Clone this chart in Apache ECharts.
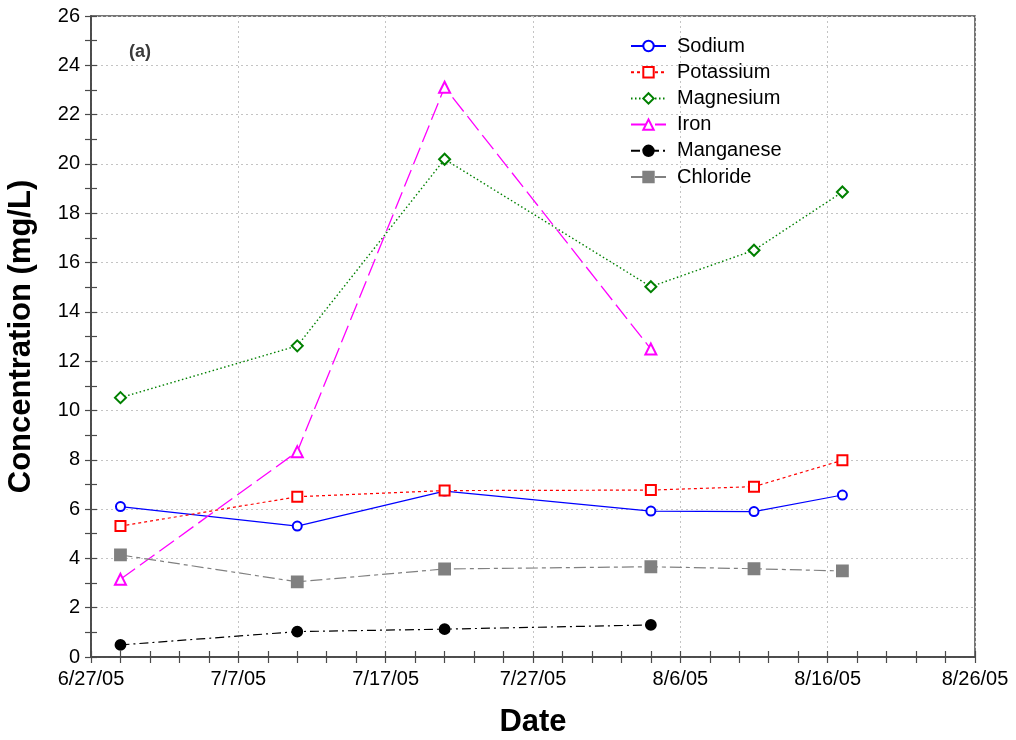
<!DOCTYPE html>
<html>
<head>
<meta charset="utf-8">
<title>Concentration vs Date</title>
<script src="https://cdn.jsdelivr.net/npm/echarts@6/dist/echarts.min.js"></script>
<style>
  html, body { margin: 0; padding: 0; background: #ffffff; }
  #chart { width: 1016px; height: 740px; }
</style>
</head>
<body>
<div id="chart"></div>
<script>
// Sampling dates and measured concentrations (mg/L)
const sampleDates = ['2005-06-29', '2005-07-11', '2005-07-21', '2005-08-04', '2005-08-11', '2005-08-17'];
const sodium    = [6.10, 5.31, 6.73, 5.92, 5.90, 6.57];
const potassium = [5.31, 6.50, 6.75, 6.77, 6.91, 7.98];
const magnesium = [10.52, 12.62, 20.19, 15.02, 16.50, 18.86];
const iron      = [3.15, 8.33, 23.11, 12.49, null, null];
const manganese = [0.49, 1.03, 1.13, 1.30, null, null];
const chloride  = [4.14, 3.05, 3.57, 3.66, 3.58, 3.49];

// Axis range: dates counted in days from the axis start
const axisStart = '2005-06-27';
const axisEnd   = '2005-08-26';
const yTicks = [0, 2, 4, 6, 8, 10, 12, 14, 16, 18, 20, 22, 24, 26];

const DAY = 86400000;
function utc(s) {
  const p = s.split('-').map(Number);
  return Date.UTC(p[0], p[1] - 1, p[2]);
}
const t0 = utc(axisStart);
const dayOf = s => (utc(s) - t0) / DAY;
const xMax = dayOf(axisEnd);

function dateLabel(v) {
  const d = new Date(t0 + v * DAY);
  const yy = String(d.getUTCFullYear() % 100).padStart(2, '0');
  return (d.getUTCMonth() + 1) + '/' + d.getUTCDate() + '/' + yy;
}

function pairs(values) {
  return sampleDates.map((s, i) => [dayOf(s), values[i]]).filter(p => p[1] != null);
}

const FONT = '"Liberation Sans", Arial, sans-serif';
const FRAME = '#4a4a4a';

const seriesDefs = [
  { name: 'Sodium',    data: sodium,    color: '#0000ff', symbol: 'emptyCircle',   size: 9,  dash: 'solid',           width: 1.2 },
  { name: 'Potassium', data: potassium, color: '#ff0000', symbol: 'emptyRect',     size: 10, dash: [3, 3],            width: 1.2 },
  { name: 'Magnesium', data: magnesium, color: '#008000', symbol: 'emptyDiamond',  size: 11, dash: [1.5, 2.5],        width: 1.4 },
  { name: 'Iron',      data: iron,      color: '#ff00ff', symbol: 'emptyTriangle', size: 11, dash: [18, 6],           width: 1.3 },
  { name: 'Manganese', data: manganese, color: '#000000', symbol: 'circle',        size: 10, dash: [9, 4, 2, 4],      width: 1.2 },
  { name: 'Chloride',  data: chloride,  color: '#808080', symbol: 'rect',          size: 11, dash: [12, 4, 4, 4],     width: 1.2 }
];

const chart = echarts.init(document.getElementById('chart'), null, { renderer: 'canvas' });

const gridLine = { show: true, lineStyle: { color: '#c4c4c4', width: 1, type: [2, 3] } };

function ticks() {
  return { show: true, inside: true, length: 6, lineStyle: { color: FRAME, width: 1.2 } };
}
function minor(n) {
  return { show: true, splitNumber: n, length: 6, lineStyle: { color: FRAME, width: 1.2 } };
}

chart.setOption({
  animation: false,
  backgroundColor: '#ffffff',
  textStyle: { fontFamily: FONT },
  title: {
    text: '(a)',
    left: 124,
    top: 38,
    textStyle: { fontFamily: FONT, fontSize: 18, fontWeight: 'bold', color: '#3a3a3a' }
  },
  legend: {
    orient: 'vertical',
    left: 630,
    top: 36,
    padding: 0,
    itemWidth: 35,
    itemHeight: 13,
    itemGap: 6.2,
    textStyle: { fontFamily: FONT, fontSize: 20, color: '#000000', lineHeight: 20, padding: [0, 0, 0, 6] },
    data: seriesDefs.map(d => d.name)
  },
  grid: {
    left: 91, right: 41, top: 16, bottom: 83,
    containLabel: false,
    outerBoundsMode: 'none',
    show: true,
    borderColor: FRAME,
    borderWidth: 1.5,
    backgroundColor: 'transparent'
  },
  xAxis: [
    {
      type: 'value',
      min: 0,
      max: xMax,
      interval: 10,
      name: 'Date',
      nameLocation: 'middle',
      nameGap: 50,
      nameTextStyle: { fontFamily: FONT, fontSize: 31, fontWeight: 'bold', color: '#000000' },
      axisLine: { show: true, lineStyle: { color: FRAME, width: 1.5 } },
      axisTick: ticks(),
      minorTick: minor(5),
      axisLabel: { show: true, margin: 12, fontSize: 20, color: '#000000', fontFamily: FONT, formatter: dateLabel },
      splitLine: gridLine
    },
    {
      type: 'value',
      position: 'top',
      min: 0,
      max: xMax,
      interval: 10,
      axisLine: { show: true, lineStyle: { color: FRAME, width: 1.5 } },
      axisTick: ticks(),
      minorTick: minor(5),
      axisLabel: { show: false },
      splitLine: { show: false }
    }
  ],
  yAxis: [
    {
      type: 'value',
      min: yTicks[0],
      max: yTicks[yTicks.length - 1],
      interval: 2,
      name: 'Concentration (mg/L)',
      nameLocation: 'middle',
      nameGap: 54,
      nameTextStyle: { fontFamily: FONT, fontSize: 31, fontWeight: 'bold', color: '#000000' },
      axisLine: { show: true, lineStyle: { color: FRAME, width: 1.5 } },
      axisTick: ticks(),
      minorTick: minor(2),
      axisLabel: { show: true, margin: 11, fontSize: 20, color: '#000000', fontFamily: FONT },
      splitLine: gridLine
    },
    {
      type: 'value',
      position: 'right',
      min: yTicks[0],
      max: yTicks[yTicks.length - 1],
      interval: 2,
      axisLine: { show: true, lineStyle: { color: FRAME, width: 1.5 } },
      axisTick: ticks(),
      minorTick: minor(2),
      axisLabel: { show: false },
      splitLine: { show: false }
    }
  ],
  series: seriesDefs.map(d => ({
    name: d.name,
    type: 'line',
    xAxisIndex: 0,
    yAxisIndex: 0,
    data: pairs(d.data),
    symbol: d.symbol,
    symbolSize: d.size,
    showAllSymbol: true,
    color: d.color,
    lineStyle: { color: d.color, width: d.width, type: d.dash },
    itemStyle: { color: d.color, borderColor: d.color, borderWidth: 1.8 },
    emphasis: { disabled: true }
  }))
});
</script>
</body>
</html>
